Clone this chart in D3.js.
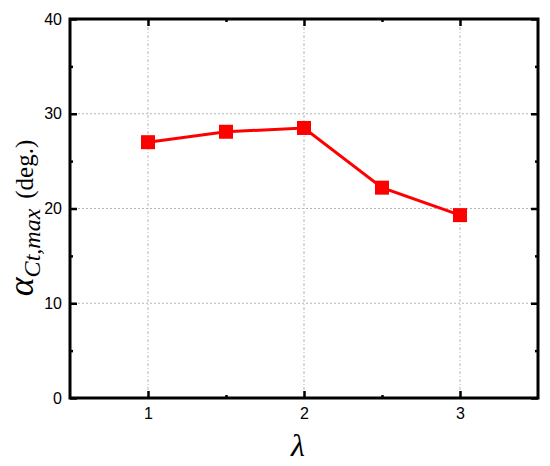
<!DOCTYPE html>
<html>
<head>
<meta charset="utf-8">
<script src="https://cdn.jsdelivr.net/npm/d3@7"></script>
<style>
  body { margin: 0; background: #fff; }
  svg { display: block; }
</style>
</head>
<body>
<svg id="chart" width="550" height="466"></svg>
<script>
// data
const lambdaVals = [1, 1.5, 2, 2.5, 3];
const alphaVals = [27.0, 28.1, 28.5, 22.2, 19.3];
const xTicks = [1, 2, 3];
const xMinor = [1.5, 2.5];
const yTicks = [0, 10, 20, 30, 40];
const yMinor = [5, 15, 25, 35];

const svg = d3.select('#chart');
const margin = { top: 19, right: 12, bottom: 68, left: 70 };
const width = 550 - margin.left - margin.right;
const height = 466 - margin.top - margin.bottom;

const chart = svg.append('g')
    .attr('transform', `translate(${margin.left}, ${margin.top})`);

const x = d3.scaleLinear().domain([0.5, 3.5]).range([0, width]);
const y = d3.scaleLinear().domain([0, 40]).range([height, 0]);

// grid
chart.append('g').selectAll('line')
    .data(xTicks)
    .enter().append('line')
    .attr('x1', d => x(d)).attr('x2', d => x(d))
    .attr('y1', 0).attr('y2', height)
    .attr('stroke', '#b5b5b5').attr('stroke-width', 1)
    .attr('stroke-dasharray', '3,2,1,2');

chart.append('g').selectAll('line')
    .data(yTicks.filter(d => d > 0 && d < 40))
    .enter().append('line')
    .attr('x1', 0).attr('x2', width)
    .attr('y1', d => y(d)).attr('y2', d => y(d))
    .attr('stroke', '#b5b5b5').attr('stroke-width', 1)
    .attr('stroke-dasharray', '2,2');

// axes with inward ticks
function styleAxis(g) {
    g.select('.domain').remove();
    g.attr('font-size', null).attr('font-family', null);
    g.selectAll('.tick line').attr('stroke', '#000').attr('stroke-width', 2.5);
    g.selectAll('text')
        .style('font-family', 'Arial, "Liberation Sans", sans-serif')
        .style('font-size', '16px').attr('fill', '#000');
}

chart.append('g')
    .attr('transform', `translate(0, ${height})`)
    .call(d3.axisBottom(x).tickValues(xTicks).tickFormat(d3.format('d')).tickSizeInner(-7).tickPadding(10))
    .call(styleAxis);
chart.append('g')
    .attr('transform', `translate(0, ${height})`)
    .call(d3.axisBottom(x).tickValues(xMinor).tickFormat('').tickSizeInner(-3))
    .call(styleAxis);
chart.append('g')
    .call(d3.axisTop(x).tickValues(xTicks).tickFormat('').tickSizeInner(-7))
    .call(styleAxis);
chart.append('g')
    .call(d3.axisTop(x).tickValues(xMinor).tickFormat('').tickSizeInner(-3))
    .call(styleAxis);

chart.append('g')
    .call(d3.axisLeft(y).tickValues(yTicks).tickFormat(d3.format('d')).tickSizeInner(-7).tickPadding(8))
    .call(styleAxis);
chart.append('g')
    .call(d3.axisLeft(y).tickValues(yMinor).tickFormat('').tickSizeInner(-3))
    .call(styleAxis);
chart.append('g')
    .attr('transform', `translate(${width}, 0)`)
    .call(d3.axisRight(y).tickValues(yTicks).tickFormat('').tickSizeInner(-7))
    .call(styleAxis);
chart.append('g')
    .attr('transform', `translate(${width}, 0)`)
    .call(d3.axisRight(y).tickValues(yMinor).tickFormat('').tickSizeInner(-3))
    .call(styleAxis);

// frame
chart.append('rect')
    .attr('x', 0).attr('y', 0)
    .attr('width', width).attr('height', height)
    .attr('fill', 'none').attr('stroke', '#000').attr('stroke-width', 3);

// series
const pts = lambdaVals.map((d, i) => [d, alphaVals[i]]);
chart.append('path')
    .datum(pts)
    .attr('fill', 'none')
    .attr('stroke', '#ff0000')
    .attr('stroke-width', 3)
    .attr('d', d3.line().x(d => x(d[0])).y(d => y(d[1])));

const sz = 14;
chart.selectAll('.mk')
    .data(pts)
    .enter().append('rect')
    .attr('class', 'mk')
    .attr('x', d => x(d[0]) - sz / 2)
    .attr('y', d => y(d[1]) - sz / 2)
    .attr('width', sz).attr('height', sz)
    .attr('fill', '#ff0000');

// axis titles
svg.append('text')
    .attr('x', margin.left + x(2) - 6)
    .attr('y', 456)
    .attr('text-anchor', 'middle')
    .attr('font-family', '"Liberation Serif", "Times New Roman", serif')
    .attr('font-style', 'italic')
    .attr('font-size', 32)
    .text('λ');

const yl = svg.append('text')
    .attr('transform', 'translate(33, 218) rotate(-90)')
    .attr('text-anchor', 'middle')
    .attr('font-family', '"Liberation Serif", "Times New Roman", serif')
    .attr('font-size', 25);
yl.append('tspan').attr('font-style', 'italic').attr('font-size', 36).text('α');
yl.append('tspan').attr('font-style', 'italic').attr('font-size', 24).attr('dy', 7).text('Ct,max');
yl.append('tspan').attr('dy', -7).attr('dx', 10).text('(deg.)');
</script>
</body>
</html>
